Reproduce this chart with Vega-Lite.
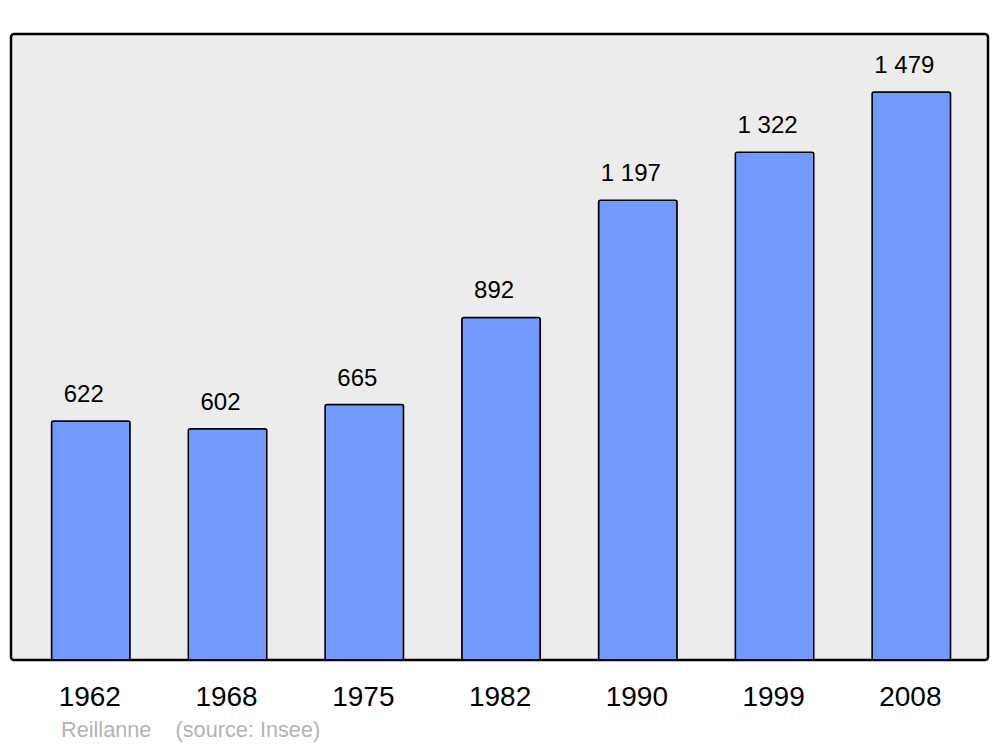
{
  "$schema": "https://vega.github.io/schema/vega-lite/v6.json",
  "width": 977,
  "height": 626,
  "autosize": {"type": "none"},
  "padding": {"left": 11, "top": 34, "right": 12, "bottom": 87},
  "background": "white",
  "config": {
    "font": "Liberation Sans",
    "view": {"fill": "#ececec", "stroke": "#000000", "strokeWidth": 2.5, "cornerRadius": 3},
    "locale": {"number": {"decimal": ",", "thousands": " ", "grouping": [3], "currency": ["", " €"]}}
  },
  "title": {
    "text": "Reillanne\u00a0\u00a0\u00a0\u00a0(source: Insee)",
    "orient": "bottom",
    "anchor": "start",
    "dx": 50,
    "offset": 9,
    "font": "Liberation Sans",
    "fontSize": 21.7,
    "fontWeight": "normal",
    "color": "#b4b4b4"
  },
  "data": {
    "values": [
      {"year": "1962", "population": 622},
      {"year": "1968", "population": 602},
      {"year": "1975", "population": 665},
      {"year": "1982", "population": 892},
      {"year": "1990", "population": 1197},
      {"year": "1999", "population": 1322},
      {"year": "2008", "population": 1479}
    ]
  },
  "encoding": {
    "x": {
      "field": "year",
      "type": "ordinal",
      "sort": null,
      "scale": {"paddingInner": 0.426, "paddingOuter": 0.285, "align": 0.52},
      "axis": {
        "title": null,
        "ticks": false,
        "tickSize": 0,
        "domain": false,
        "labelAngle": 0,
        "labelFontSize": 28,
        "labelColor": "#000000",
        "labelBaseline": "alphabetic",
        "labelPadding": 45,
        "labelOffset": -1,
        "grid": false
      }
    },
    "y": {
      "field": "population",
      "type": "quantitative",
      "scale": {"domain": [0, 1630], "nice": false},
      "axis": null
    }
  },
  "layer": [
    {
      "mark": {"type": "bar", "fill": "#7399ff", "stroke": "#000000", "strokeWidth": 1.5, "cornerRadius": 2}
    },
    {
      "mark": {"type": "text", "baseline": "alphabetic", "dy": -19, "dx": -7, "fontSize": 24, "color": "#000000"},
      "encoding": {
        "text": {"field": "population", "type": "quantitative", "format": ",d"}
      }
    }
  ]
}
